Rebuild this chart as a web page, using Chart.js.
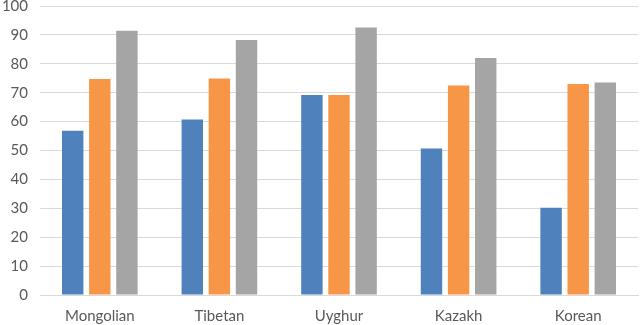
<!DOCTYPE html>
<html>
<head>
<meta charset="utf-8">
<script src="https://cdn.jsdelivr.net/npm/chart.js@4/dist/chart.umd.min.js"></script>
<style>
  html, body { margin: 0; padding: 0; background: #fff; overflow: hidden; }
  #wrap { position: relative; width: 640px; height: 325px; overflow: hidden; }
  #box { position: absolute; left: 0; top: -15px; width: 640px; height: 352px; }
</style>
</head>
<body>
<div id="wrap"><div id="box"><canvas id="chart"></canvas></div></div>
<script>
const categories = ['Mongolian', 'Tibetan', 'Uyghur', 'Kazakh', 'Korean'];
const seriesBlue = [56.8, 60.7, 69.2, 50.7, 30.2];
const seriesOrange = [74.7, 74.9, 69.2, 72.5, 73.0];
const seriesGray = [91.4, 88.2, 92.6, 82.0, 73.5];
const yTicks = [0, 10, 20, 30, 40, 50, 60, 70, 80, 90, 100];

const fontFamily = 'Lato, "Open Sans", sans-serif';

new Chart(document.getElementById('chart'), {
  type: 'bar',
  data: {
    labels: categories,
    datasets: [
      { data: seriesBlue, backgroundColor: '#4F81BD' },
      { data: seriesOrange, backgroundColor: '#F79646' },
      { data: seriesGray, backgroundColor: '#A5A5A5' }
    ]
  },
  options: {
    responsive: true,
    maintainAspectRatio: false,
    animation: false,
    categoryPercentage: 0.68,
    barPercentage: 0.79,
    layout: { padding: { left: 0, right: 2, top: 0, bottom: 0 } },
    plugins: { legend: { display: false }, tooltip: { enabled: false } },
    scales: {
      x: {
        grid: { display: false, drawTicks: false },
        border: { color: '#D9D9D9', width: 1 },
        ticks: { color: '#595959', font: { family: fontFamily, size: 15 }, padding: 12 }
      },
      y: {
        min: yTicks[0],
        max: yTicks[yTicks.length - 1],
        afterBuildTicks: (axis) => { axis.ticks = yTicks.map(v => ({ value: v })); },
        afterFit: (axis) => { axis.width = 40; },
        grid: { color: '#D9D9D9', drawTicks: false },
        border: { display: false },
        ticks: { color: '#595959', font: { family: fontFamily, size: 15 }, padding: 12 }
      }
    }
  }
});
</script>
</body>
</html>
